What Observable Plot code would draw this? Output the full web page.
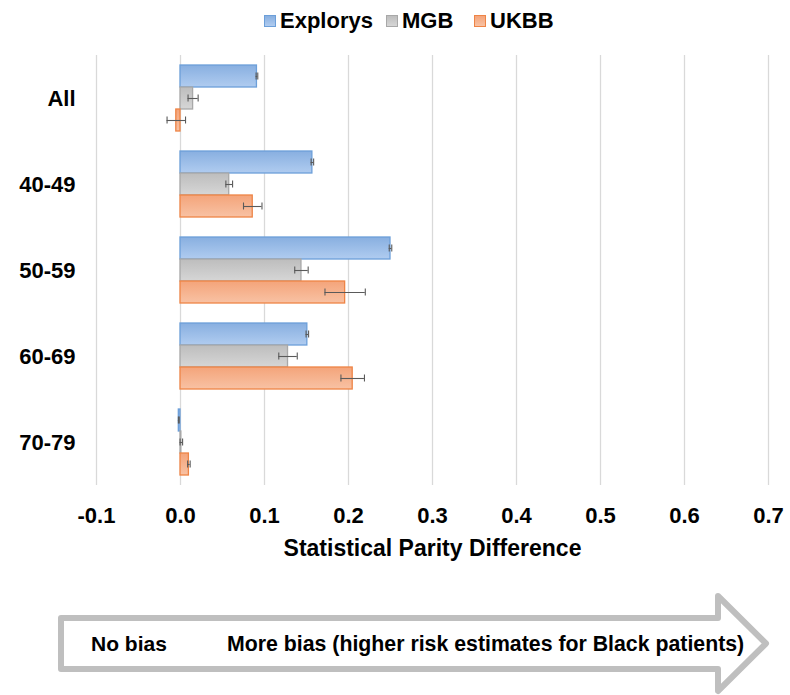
<!DOCTYPE html>
<html>
<head>
<meta charset="utf-8">
<script src="https://cdn.jsdelivr.net/npm/d3@7"></script>
<script src="https://cdn.jsdelivr.net/npm/@observablehq/plot@0.6"></script>
<style>
  body { margin: 0; background: #fff; font-family: "Liberation Sans", Arial, sans-serif; }
  #legend { position: relative; width: 790px; height: 42px; font-size: 22px; font-weight: bold; color: #000; }
  #legend .item { position: absolute; top: 8px; display: flex; align-items: center; white-space: nowrap; }
  #legend .sw { width: 12px; height: 12px; margin-right: 4px; box-sizing: border-box; border: 1px solid; }
  #chart svg, #arrow svg { display: block; }
</style>
</head>
<body>
<div id="legend"></div>
<div id="chart"></div>
<div id="arrow"></div>
<script>
// Age groups and the three cohorts
const groups = ["All", "40-49", "50-59", "60-69", "70-79"];
const seriesNames = ["Explorys", "MGB", "UKBB"];

// Statistical parity difference per group, with half-width of the error bar
const explorys    = [0.091, 0.157, 0.250, 0.151, -0.002];
const explorysErr = [0.001, 0.0015, 0.0015, 0.0015, 0.0005];
const mgb         = [0.015, 0.058, 0.144, 0.128, 0.001];
const mgbErr      = [0.006, 0.004, 0.008, 0.011, 0.0015];
const ukbb        = [-0.005, 0.086, 0.196, 0.205, 0.010];
const ukbbErr     = [0.011, 0.011, 0.024, 0.014, 0.0015];

const xTicks = [-0.1, 0, 0.1, 0.2, 0.3, 0.4, 0.5, 0.6, 0.7];

const styles = {
  Explorys: { fill: "#9dc0ea", top: "#88afe0", bottom: "#b0ccf0", stroke: "#6c9fd9" },
  MGB:      { fill: "#c9c9c9", top: "#bdbdbd", bottom: "#d6d6d6", stroke: "#a8a8a8" },
  UKBB:     { fill: "#f6b08c", top: "#f4a47a", bottom: "#f8c2a4", stroke: "#ee8446" }
};

const valueSets = [explorys, mgb, ukbb];
const errSets = [explorysErr, mgbErr, ukbbErr];
const rows = [];
groups.forEach((g, i) => {
  seriesNames.forEach((s, j) => {
    rows.push({ group: g, series: s, value: valueSets[j][i], lo: valueSets[j][i] - errSets[j][i], hi: valueSets[j][i] + errSets[j][i] });
  });
});

// Legend
const legendLeft = { Explorys: 264, MGB: 386, UKBB: 474 };
const legend = d3.select("#legend");
seriesNames.forEach(s => {
  const it = legend.append("div").attr("class", "item").style("left", legendLeft[s] + "px");
  it.append("div").attr("class", "sw")
    .style("background", `linear-gradient(${styles[s].top}, ${styles[s].bottom})`)
    .style("border-color", styles[s].stroke);
  it.append("span").text(s);
});

const chart = Plot.plot({
  width: 790,
  height: 530,
  marginLeft: 96,
  marginRight: 22,
  marginTop: 11,
  marginBottom: 85,
  style: { fontFamily: "'Liberation Sans', Arial, sans-serif", fontSize: "22px", fontWeight: "bold", color: "#000", background: "#fff" },
  x: { domain: [-0.1, 0.7] },
  fy: { domain: groups, padding: 0 },
  y: { domain: seriesNames, paddingInner: 0, paddingOuter: 0.45, axis: null },
  marks: [
    Plot.gridX(xTicks, { stroke: "#d9d9d9", strokeOpacity: 1, strokeWidth: 1.3 }),
    ...seriesNames.map(s => Plot.barX(rows.filter(d => d.series === s), {
      fy: "group", y: "series", x: "value",
      fill: styles[s].fill, stroke: styles[s].stroke, strokeWidth: 1.3
    })),
    Plot.ruleY(rows, { fy: "group", y: "series", x1: "lo", x2: "hi", stroke: "#5a5a5a", strokeWidth: 1.1 }),
    Plot.tickX(rows, { fy: "group", y: "series", x: "lo", stroke: "#5a5a5a", strokeWidth: 1.1, insetTop: 7.5, insetBottom: 7.5 }),
    Plot.tickX(rows, { fy: "group", y: "series", x: "hi", stroke: "#5a5a5a", strokeWidth: 1.1, insetTop: 7.5, insetBottom: 7.5 }),
    Plot.axisX({
      ticks: xTicks, tickSize: 0, tickPadding: 22, tickFormat: d => d.toFixed(1),
      label: null
    }),
    Plot.axisX({
      ticks: [], tickSize: 0, label: "Statistical Parity Difference", labelAnchor: "center",
      labelArrow: false, labelOffset: 70, fontSize: 23
    }),
    Plot.axisFy({ anchor: "left", tickSize: 0, tickPadding: 21, label: null, fontSize: 22 })
  ]
});

// Soft vertical shading on the bars
const svg = d3.select(chart);
const defs = svg.insert("defs", ":first-child");
seriesNames.forEach(s => {
  const id = "grad-" + s;
  const lg = defs.append("linearGradient").attr("id", id).attr("x1", 0).attr("y1", 0).attr("x2", 0).attr("y2", 1);
  lg.append("stop").attr("offset", "0%").attr("stop-color", styles[s].top);
  lg.append("stop").attr("offset", "100%").attr("stop-color", styles[s].bottom);
  svg.selectAll(`g[aria-label="bar"] [fill="${styles[s].fill}"], g[aria-label="bar"][fill="${styles[s].fill}"] rect`)
    .attr("fill", `url(#${id})`);
});
document.getElementById("chart").appendChild(chart);

// Direction arrow under the chart
const arrowH = 123;
const asvg = d3.select("#arrow").append("svg").attr("width", 790).attr("height", arrowH);
const cy = 71.5;
const bodyHalf = 25.5, headHalf = 47.5;
const left = 61, headX = 718, tipX = 766;
asvg.append("path")
  .attr("d", `M${left},${cy - bodyHalf} L${headX},${cy - bodyHalf} L${headX},${cy - headHalf} L${tipX},${cy} L${headX},${cy + headHalf} L${headX},${cy + bodyHalf} L${left},${cy + bodyHalf} Z`)
  .attr("fill", "#fff").attr("stroke", "#bfbfbf").attr("stroke-width", 6).attr("stroke-linejoin", "round");
asvg.append("text").attr("x", 91).attr("y", cy).attr("dy", "0.35em")
  .attr("font-size", 21).attr("font-weight", "bold").attr("font-family", "'Liberation Sans', Arial, sans-serif")
  .text("No bias");
asvg.append("text").attr("x", 227).attr("y", cy).attr("dy", "0.35em")
  .attr("font-size", 21.3).attr("font-weight", "bold").attr("font-family", "'Liberation Sans', Arial, sans-serif")
  .text("More bias (higher risk estimates for Black patients)");
</script>
</body>
</html>
